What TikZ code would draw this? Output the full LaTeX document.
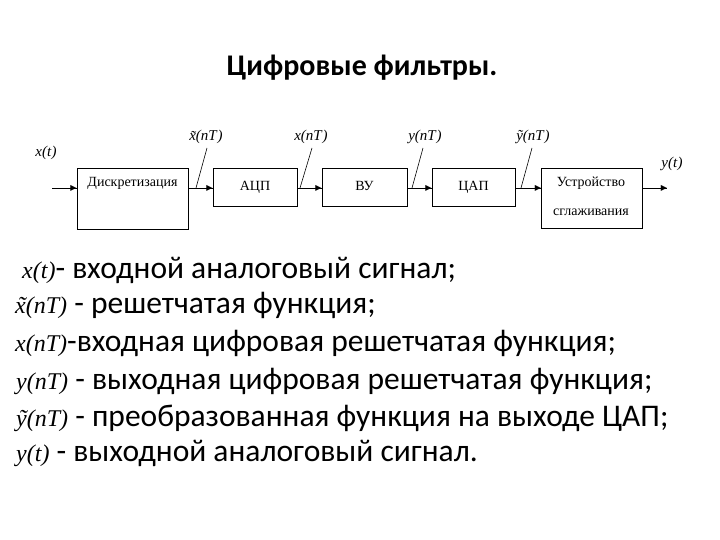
\documentclass[tikz,border=0pt]{standalone}
\usepackage{fontspec}
\setmainfont{Carlito}
\newfontfamily\tms{Liberation Serif}
\newfontfamily\dvs{DejaVu Sans}
\tikzset{
  blk/.style={draw=black, fill=white, text=black, line width=0.8pt, inner sep=0pt, text height=9.5pt, text depth=3pt, font=\tms\fontsize{14}{16}\selectfont},
  btxt/.style={inner sep=0pt, text=black, font=\tms\fontsize{14}{16}\selectfont},
  sig/.style={font=\tms\itshape\fontsize{15}{17}\selectfont, text=black, inner sep=0pt},
  flowline/.style={draw=black, line width=0.9pt},
  ahead/.style={anchor=east, inner sep=0pt, outer sep=0pt, text=black, font=\dvs\fontsize{8}{8}\selectfont},
  tick/.style={draw=black, line width=0.6pt},
  leg/.style={anchor=west, inner sep=0pt, text=black, font=\fontsize{31.5}{36}\selectfont},
}
\newcommand{\fx}[1]{{\tms\itshape\fontsize{24}{27}\selectfont #1}}
\newcommand{\tl}[1]{\rlap{\kern0.1em\char"02DC}#1}
\begin{document}
\begin{tikzpicture}[x=1pt,y=-1pt]
\useasboundingbox (0,0) rectangle (720,540);
% signal line (runs behind the white boxes)
\coordinate (cin) at (52,188);
\coordinate (cout) at (667,188);
\draw[flowline] (cin) -- (cout);
% title
\node[font=\bfseries\fontsize{30}{34}\selectfont, text=black, inner sep=0pt] (title) at (362,68) {Цифровые фильтры.};
% blocks
\node[blk, minimum width=111pt, minimum height=61pt] (bd) at (132.5,198.5) {};
\node[btxt] (dt) at (132.5,183) {Дискретизация};
\node[blk, minimum width=84pt, minimum height=38pt] (ba) at (255,187) {АЦП};
\node[blk, minimum width=85pt, minimum height=38pt] (bv) at (364.5,187) {ВУ};
\node[blk, minimum width=83pt, minimum height=38pt] (bc) at (473.5,187) {ЦАП};
\node[blk, minimum width=101pt, minimum height=60pt] (bs) at (592,198) {};
\node[btxt] (st1) at (591,183) {Устройство};
\node[btxt] (st2) at (591,212) {сглаживания};
% arrow heads
\node[ahead] (h1) at (bd.west |- cin) {▶};
\node[ahead] (h2) at (ba.west |- cin) {▶};
\node[ahead] (h3) at (bv.west |- cin) {▶};
\node[ahead] (h4) at (bc.west |- cin) {▶};
\node[ahead] (h5) at (bs.west |- cin) {▶};
\node[ahead] (h6) at (cout) {▶};
% labels
\node[sig] (lxt) at (46,153) {x\/(t\/)};
\node[sig] (l1) at (206,137) {\~{x}(nT\/)};
\node[sig] (l2) at (311,137) {x\/(nT\/)};
\node[sig] (l3) at (425,137) {y\/(nT\/)};
\node[sig] (l4) at (533,137) {\~{y}(nT\/)};
\node[sig] (lyt) at (672,164) {y\/(t\/)};
\coordinate (p1) at (196,188);
\coordinate (p2) at (300,188);
\coordinate (p3) at (412,188);
\coordinate (p4) at (521,188);
\coordinate (q1) at (207,148);
\coordinate (q2) at (312,148);
\coordinate (q3) at (423,148);
\coordinate (q4) at (532,148);
\draw[tick] (q1) -- (p1);
\draw[tick] (q2) -- (p2);
\draw[tick] (q3) -- (p3);
\draw[tick] (q4) -- (p4);
% legend
\node[leg] (g1) at (22,270) {\fx{x(t)}- входной аналоговый сигнал;};
\node[leg] (g2) at (15,305) {\fx{\tl{x}(nT)} - решетчатая функция;};
\node[leg] (g3) at (15,343) {\fx{x(nT)}-входная цифровая решетчатая функция;};
\node[leg] (g4) at (16,381) {\fx{y(nT)} - выходная цифровая решетчатая функция;};
\node[leg] (g5) at (16,418) {\fx{\tl{y}(nT)} - преобразованная функция на выходе ЦАП;};
\node[leg] (g6) at (16,453) {\fx{y(t)} - выходной аналоговый сигнал.};
\end{tikzpicture}
\end{document}
